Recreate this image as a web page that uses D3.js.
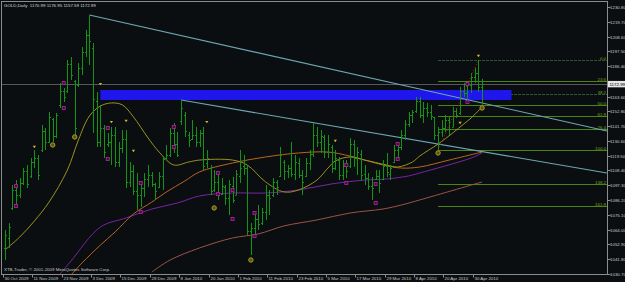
<!DOCTYPE html>
<html><head><meta charset="utf-8">
<script src="https://cdn.jsdelivr.net/npm/d3@7"></script>
<style>html,body{margin:0;padding:0;background:#0a0e11;overflow:hidden}</style>
</head><body>
<script>
// ---------- DATA ----------
const symbolTitle = "GOLD,Daily  1170.99 1176.95 1157.59 1172.99";
const footerText = "XTB-Trader, \u00a9 2001-2009 MetaQuotes Software Corp.";
const opens = [1050,1058,1080,1094,1090,1099,1108,1104,1115,1118,
1124,1138,1130,1147,1134,1157,1168,1168,1188,1175,
1172,1185,1197,1210,1200,1160,1130,1140,1128,1130,
1135,1115,1125,1132,1100,1108,1093,1090,1095,1102,
1105,1098,1096,1104,1118,1120,1136,1128,1145,1150,
1135,1132,1135,1130,1136,1114,1110,1094,1100,1091,
1096,1088,1097,1090,1104,1112,1110,1063,1065,1072,
1069,1077,1090,1090,1100,1104,1115,1108,1110,1106,
1114,1105,1104,1114,1121,1135,1130,1133,1122,1126,
1110,1116,1105,1112,1112,1128,1118,1121,1106,1103,
1097,1102,1104,1102,1112,1106,1115,1124,1126,1135,
1143,1150,1153,1160,1150,1155,1152,1148,1135,1137,
1140,1146,1141,1153,1151,1168,1166,1172,1178,1181,
1170.99];
const highs = [1063.7,1068.9,1097.4,1101.1,1102.6,1110.1,1112.4,1117.6,1123.6,1119.9,
1142.4,1140.1,1152.1,1147.6,1151.4,1173.8,1170.1,1191.1,1193.3,1176.1,
1188.8,1200.8,1213.6,1224.8,1203.8,1167.1,1157.4,1142.4,1136.4,1140.9,
1140.9,1129.6,1138.6,1138.6,1114.6,1112.4,1106.4,1098.9,1106.4,1112.4,
1107.1,1098.9,1107.1,1118.4,1127.4,1140.1,1143.9,1137.1,1161.1,1152.1,
1137.1,1146.1,1140.9,1138.6,1140.9,1123.6,1112.4,1108.6,1104.9,1102.6,
1097.4,1101.1,1103.4,1108.6,1123.6,1119.9,1112.4,1068.9,1076.4,1082.4,
1080.2,1097.4,1093.7,1102.6,1101.1,1125.9,1116.1,1112.4,1129.6,1119.9,
1117.6,1108.6,1117.6,1123.6,1143.9,1140.9,1138.6,1134.9,1134.9,1127.4,
1123.6,1118.4,1116.1,1116.1,1132.6,1131.1,1125.9,1123.6,1112.4,1106.4,
1103.4,1108.6,1108.6,1116.1,1121.4,1112.4,1127.4,1127.4,1138.6,1146.1,
1152.1,1153.6,1163.4,1163.4,1159.6,1158.9,1157.4,1148.4,1140.9,1146.1,
1149.9,1148.4,1155.9,1155.1,1170.9,1173.8,1173.8,1181.3,1185.1,1191.1,
1176.95];
const lows = [1041.2,1050.2,1078.7,1082.4,1087.6,1097.4,1095.1,1102.6,1110.1,1101.1,
1122.1,1123.6,1128.9,1129.6,1132.6,1155.1,1159.6,1166.4,1176.1,1134.1,
1170.9,1179.8,1193.3,1187.3,1136.4,1125.9,1125.9,1117.6,1125.9,1112.4,
1110.9,1110.9,1121.4,1095.1,1095.9,1089.9,1078.7,1080.9,1088.4,1095.9,
1095.9,1086.2,1095.1,1093.7,1116.1,1118.4,1121.4,1118.4,1142.4,1133.4,
1125.9,1131.1,1125.9,1125.9,1108.6,1110.1,1089.9,1092.2,1086.2,1089.9,
1082.4,1074.9,1083.9,1089.9,1098.9,1104.9,1059.9,1044.9,1058.4,1063.7,
1067.4,1071.2,1074.9,1088.4,1089.9,1103.4,1101.1,1102.6,1103.4,1101.1,
1102.6,1089.9,1103.4,1108.6,1118.4,1125.9,1121.4,1117.6,1117.6,1106.4,
1108.6,1101.1,1101.1,1102.6,1110.1,1110.9,1104.9,1101.1,1097.4,1093.7,
1086.2,1101.1,1091.4,1101.1,1103.4,1101.1,1113.9,1116.1,1123.6,1131.1,
1140.9,1143.9,1151.4,1147.6,1143.9,1148.4,1146.1,1131.1,1123.6,1133.4,
1137.1,1134.9,1140.9,1147.6,1149.9,1163.4,1159.6,1166.4,1173.8,1167.1,
1157.59];
const closes = [1060,1066,1094,1090,1099,1108,1098,1115,1118,1105,
1138,1130,1148,1134,1150,1168,1163,1188,1180,1140,
1185,1197,1210,1205,1162,1130,1140,1122,1130,1135,
1115,1125,1132,1100,1108,1093,1090,1095,1102,1105,
1098,1093,1104,1117,1120,1136,1128,1120,1155,1138,
1131,1135,1130,1136,1112,1118,1093,1100,1090,1097,
1088,1098,1086,1106,1110,1110,1063,1065,1072,1068,
1077,1090,1088,1100,1096,1120,1108,1110,1106,1115,
1105,1100,1114,1121,1135,1130,1134,1122,1128,1110,
1118,1105,1112,1108,1128,1118,1122,1105,1103,1097,
1095,1104,1099,1112,1107,1110,1124,1126,1135,1143,
1150,1152,1160,1150,1155,1152,1149,1135,1137,1140,
1146,1139,1153,1150,1168,1166,1172,1178,1181,1171,
1172.99];

// moving averages (bar index, value)
const fastIdx = [0,4,8,12,17,20,23,26,29,32,35,39,42,46,50,53,62,66,71,76,80,85,88,90,94,98,104,107,111,113,118,122,125,127,130];
const fastVal = [1048.7,1058.4,1070.4,1084.6,1108.6,1131.1,1149.1,1156.6,1158.9,1157.4,1148.4,1132.6,1122.1,1112.4,1114.6,1116.1,1116.1,1112.4,1099.7,1092.2,1093.7,1101.1,1110.1,1115.4,1118.4,1116.1,1112.4,1110.9,1114.6,1119.1,1128.1,1136.4,1143.1,1147.6,1155.9];
const midIdx = [18,21,26,30,35,40,44,49,53,62,71,80,88,94,103,108,113,121,130];
const midVal = [1030.0,1039.0,1052.4,1062.2,1075.7,1084.6,1092.2,1100.4,1107.2,1113.9,1118.4,1121.4,1122.1,1119.1,1112.4,1110.1,1110.9,1116.1,1122.1];
const purpleIdx = [15,18,26,33,40,47,53,62,71,80,89,98,104,110,113,127,130];
const purpleVal = [1030.7,1040.5,1065.9,1072.7,1079.4,1083.9,1089.2,1091.4,1091.4,1093.7,1098.2,1101.1,1101.9,1104.2,1106.4,1117.6,1121.4];
const slowIdx = [40,45,53,62,69,76,85,94,103,108,113,130];
const slowVal = [1032.2,1041.2,1050.2,1057.7,1060.7,1066.7,1071.2,1076.4,1079.4,1082.4,1086.2,1099.7];

// trendlines [idx1, price1, idx2, price2]
const trendA = [23, 1224.8, 164, 1137.9];
const trendB = [48, 1161.1, 164, 1106.4];
// rectangle zone [idx1, idx2, priceTop, priceBottom]
const zone = [26, 138, 1168.6, 1161.1];
// fibonacci
const fibLevels = [0, 23.6, 38.2, 50.0, 61.8, 76.4, 100.0, 138.2, 161.8];
const fibLabels = ["0.0","23.6","38.2","50.0","61.8","76.4","100.0","138.2","161.8"];
const fibHigh = 1191.1, fibLow = 1123.6, fibHighIdx = 129, fibLowIdx = 118;

// markers
const fractalIdx = [3,3,16,16,28,28,37,37,46,46,58,58,62,62,68,68,93,93,101,101,107,107,126,126];
const fractalVal = [1096.6,1081.7,1173.8,1155.1,1140.1,1116.9,1098.9,1077.2,1140.9,1125.9,1106.4,1090.7,1093.7,1071.9,1076.4,1059.2,1112.4,1098.9,1098.2,1083.9,1128.1,1116.9,1173.1,1159.6];
const circleIdx = [13,19,57,67,118,130];
const circleVal = [1127.4,1133.4,1080.2,1041.2,1121.4,1155.1];
const arrowIdx = [8,26,29,33,35,55,90,124,129];
const arrowVal = [1125.9,1173.1,1144.6,1145.4,1122.9,1144.6,1130.4,1143.9,1194.1];

// axes
const priceTicks = [1030.70,1041.80,1052.90,1064.00,1075.10,1086.20,1097.30,1108.40,1119.50,1130.60,1141.70,1152.80,1163.60,1186.40,1197.50,1208.60,1219.70,1230.80];
const dateLabels = ["30 Oct 2009","11 Nov 2009","23 Nov 2009","3 Dec 2009","15 Dec 2009","28 Dec 2009","8 Jan 2010","20 Jan 2010","1 Feb 2010","11 Feb 2010","23 Feb 2010","5 Mar 2010","17 Mar 2010","29 Mar 2010","8 Apr 2010","20 Apr 2010","30 Apr 2010"];
const dateIdx = [0,8,16,24,32,40,48,56,64,72,80,88,96,104,112,120,128];
const bidPrice = 1172.99;

// ---------- DRAW ----------
const W = 625, H = 282;
const L = 1.5, R = 607.5, T = 1.5, B = 274.5;
const FONT = "'Liberation Sans', Arial, sans-serif";
const FS = 4.4;

const svg = d3.select("body").append("svg").attr("width", W).attr("height", H).style("display","block");
svg.append("rect").attr("width", W).attr("height", H).attr("fill", "#0a0e11");

const x = d3.scaleLinear().domain([0, 130]).range([5, 482.1]);
const y = d3.scaleLinear().domain([1030.7, 1230.8]).range([274, 7]);

svg.append("defs").append("clipPath").attr("id","plot")
  .append("rect").attr("x", L).attr("y", T).attr("width", R - L).attr("height", B - T);
const g = svg.append("g").attr("clip-path","url(#plot)");

// bid line
g.append("line").attr("x1", L).attr("x2", R).attr("y1", Math.round(y(bidPrice)) + 0.5).attr("y2", Math.round(y(bidPrice)) + 0.5)
  .attr("stroke", "#55585c").attr("stroke-width", 1);

// fib levels
const fibX = x(fibLowIdx);
fibLevels.forEach((lv, k) => {
  const p = fibHigh - (fibHigh - fibLow) * lv / 100;
  const yy = Math.round(y(p)) + 0.5;
  const dashed = (lv === 0 || lv === 38.2);
  g.append("line").attr("x1", fibX).attr("x2", R).attr("y1", yy).attr("y2", yy)
    .attr("stroke", dashed ? "#2a5736" : "#4c8412").attr("stroke-width", 1)
    .attr("stroke-dasharray", dashed ? "3,1" : null);
  svg.append("text").attr("x", 606).attr("y", yy - 1).attr("text-anchor","end")
    .attr("font-family", FONT).attr("font-size", FS).attr("fill", "#72a812").text(fibLabels[k]);
});

// zone rectangle
g.append("rect").attr("x", x(zone[0])).attr("y", y(zone[2]))
  .attr("width", x(zone[1]) - x(zone[0])).attr("height", y(zone[3]) - y(zone[2]))
  .attr("fill", "#1e16ea");

// moving averages
function maLine(idx, val, color, w) {
  const pts = idx.map((d, k) => [x(d), y(val[k])]);
  g.append("path").attr("d", d3.line().curve(d3.curveCatmullRom.alpha(0.5))(pts))
    .attr("fill","none").attr("stroke", color).attr("stroke-width", w);
}
maLine(slowIdx, slowVal, "#9c5446", 1);
maLine(purpleIdx, purpleVal, "#7a24a4", 1);
maLine(midIdx, midVal, "#b8661e", 1);
maLine(fastIdx, fastVal, "#9a9222", 1);

// trendlines
[trendA, trendB].forEach(t => {
  g.append("line").attr("x1", x(t[0])).attr("y1", y(t[1])).attr("x2", x(t[2])).attr("y2", y(t[3]))
    .attr("stroke", "#6ea6b4").attr("stroke-width", 1.1);
});

// bars
const bars = g.append("g").attr("stroke", "#149414").attr("stroke-width", 1);
closes.forEach((c, i) => {
  const xi = Math.round(x(i)) + 0.5;
  bars.append("line").attr("x1", xi).attr("x2", xi).attr("y1", y(highs[i])).attr("y2", y(lows[i]));
  const yo = Math.round(y(opens[i])) + 0.5, yc = Math.round(y(c)) + 0.5;
  bars.append("line").attr("x1", xi - 1.5).attr("x2", xi).attr("y1", yo).attr("y2", yo);
  bars.append("line").attr("x1", xi).attr("x2", xi + 1.5).attr("y1", yc).attr("y2", yc);
});

// fib trend (red dotted)
g.append("line").attr("x1", x(fibLowIdx)).attr("y1", y(fibLow)).attr("x2", x(fibHighIdx)).attr("y2", y(fibHigh))
  .attr("stroke", "#b01c1c").attr("stroke-width", 1).attr("stroke-dasharray", "1,2");

// fractal squares
fractalIdx.forEach((d, k) => {
  g.append("rect").attr("x", x(d) - 1.5).attr("y", y(fractalVal[k]) - 1.5).attr("width", 3).attr("height", 3)
    .attr("fill", "#3e0c3a").attr("stroke", "#a62494").attr("stroke-width", 0.9);
});
// circles
circleIdx.forEach((d, k) => {
  g.append("circle").attr("cx", x(d)).attr("cy", y(circleVal[k])).attr("r", 2.2)
    .attr("fill", "#5e5410").attr("stroke", "#a89a26").attr("stroke-width", 1);
});
// arrows
arrowIdx.forEach((d, k) => {
  const cx = x(d), cy = y(arrowVal[k]);
  g.append("path").attr("d", `M${cx-1.6},${cy-1.1}L${cx+1.6},${cy-1.1}L${cx},${cy+1.2}Z`).attr("fill", "#d0c028");
});

// frame and axes
svg.append("rect").attr("x", L).attr("y", T).attr("width", R - L).attr("height", B - T)
  .attr("fill","none").attr("stroke","#8c8c8c").attr("stroke-width",1);

priceTicks.forEach(p => {
  const yy = Math.round(y(p)) + 0.5;
  svg.append("line").attr("x1", R).attr("x2", R + 3).attr("y1", yy).attr("y2", yy).attr("stroke","#8c8c8c");
  svg.append("text").attr("x", 610).attr("y", yy + 1.6).attr("font-family", FONT).attr("font-size", FS)
    .attr("fill", "#c8c8c8").text(p.toFixed(2));
});

// bid price box
const by = y(bidPrice);
svg.append("rect").attr("x", R + 0.5).attr("y", by - 3.2).attr("width", 17).attr("height", 6.4).attr("fill", "#e6e6e6");
svg.append("text").attr("x", 609.5).attr("y", by + 1.6).attr("font-family", FONT).attr("font-size", FS)
  .attr("fill", "#000").text(bidPrice.toFixed(2));

dateIdx.forEach((d, k) => {
  const xx = Math.round(x(d)) - 1.5;
  svg.append("line").attr("x1", xx).attr("x2", xx).attr("y1", B).attr("y2", B + 3).attr("stroke","#8c8c8c");
  svg.append("text").attr("x", xx + 1).attr("y", 280).attr("font-family", FONT).attr("font-size", FS)
    .attr("fill", "#c8c8c8").text(dateLabels[k]);
});

// header & footer
svg.append("text").attr("x", 4).attr("y", 6.5).attr("font-family", FONT).attr("font-size", FS)
  .attr("fill", "#d8d8d8").attr("xml:space","preserve").text(symbolTitle);
svg.append("text").attr("x", 4).attr("y", 271).attr("font-family", FONT).attr("font-size", FS)
  .attr("fill", "#c8c8c8").text(footerText);
</script>
</body></html>
